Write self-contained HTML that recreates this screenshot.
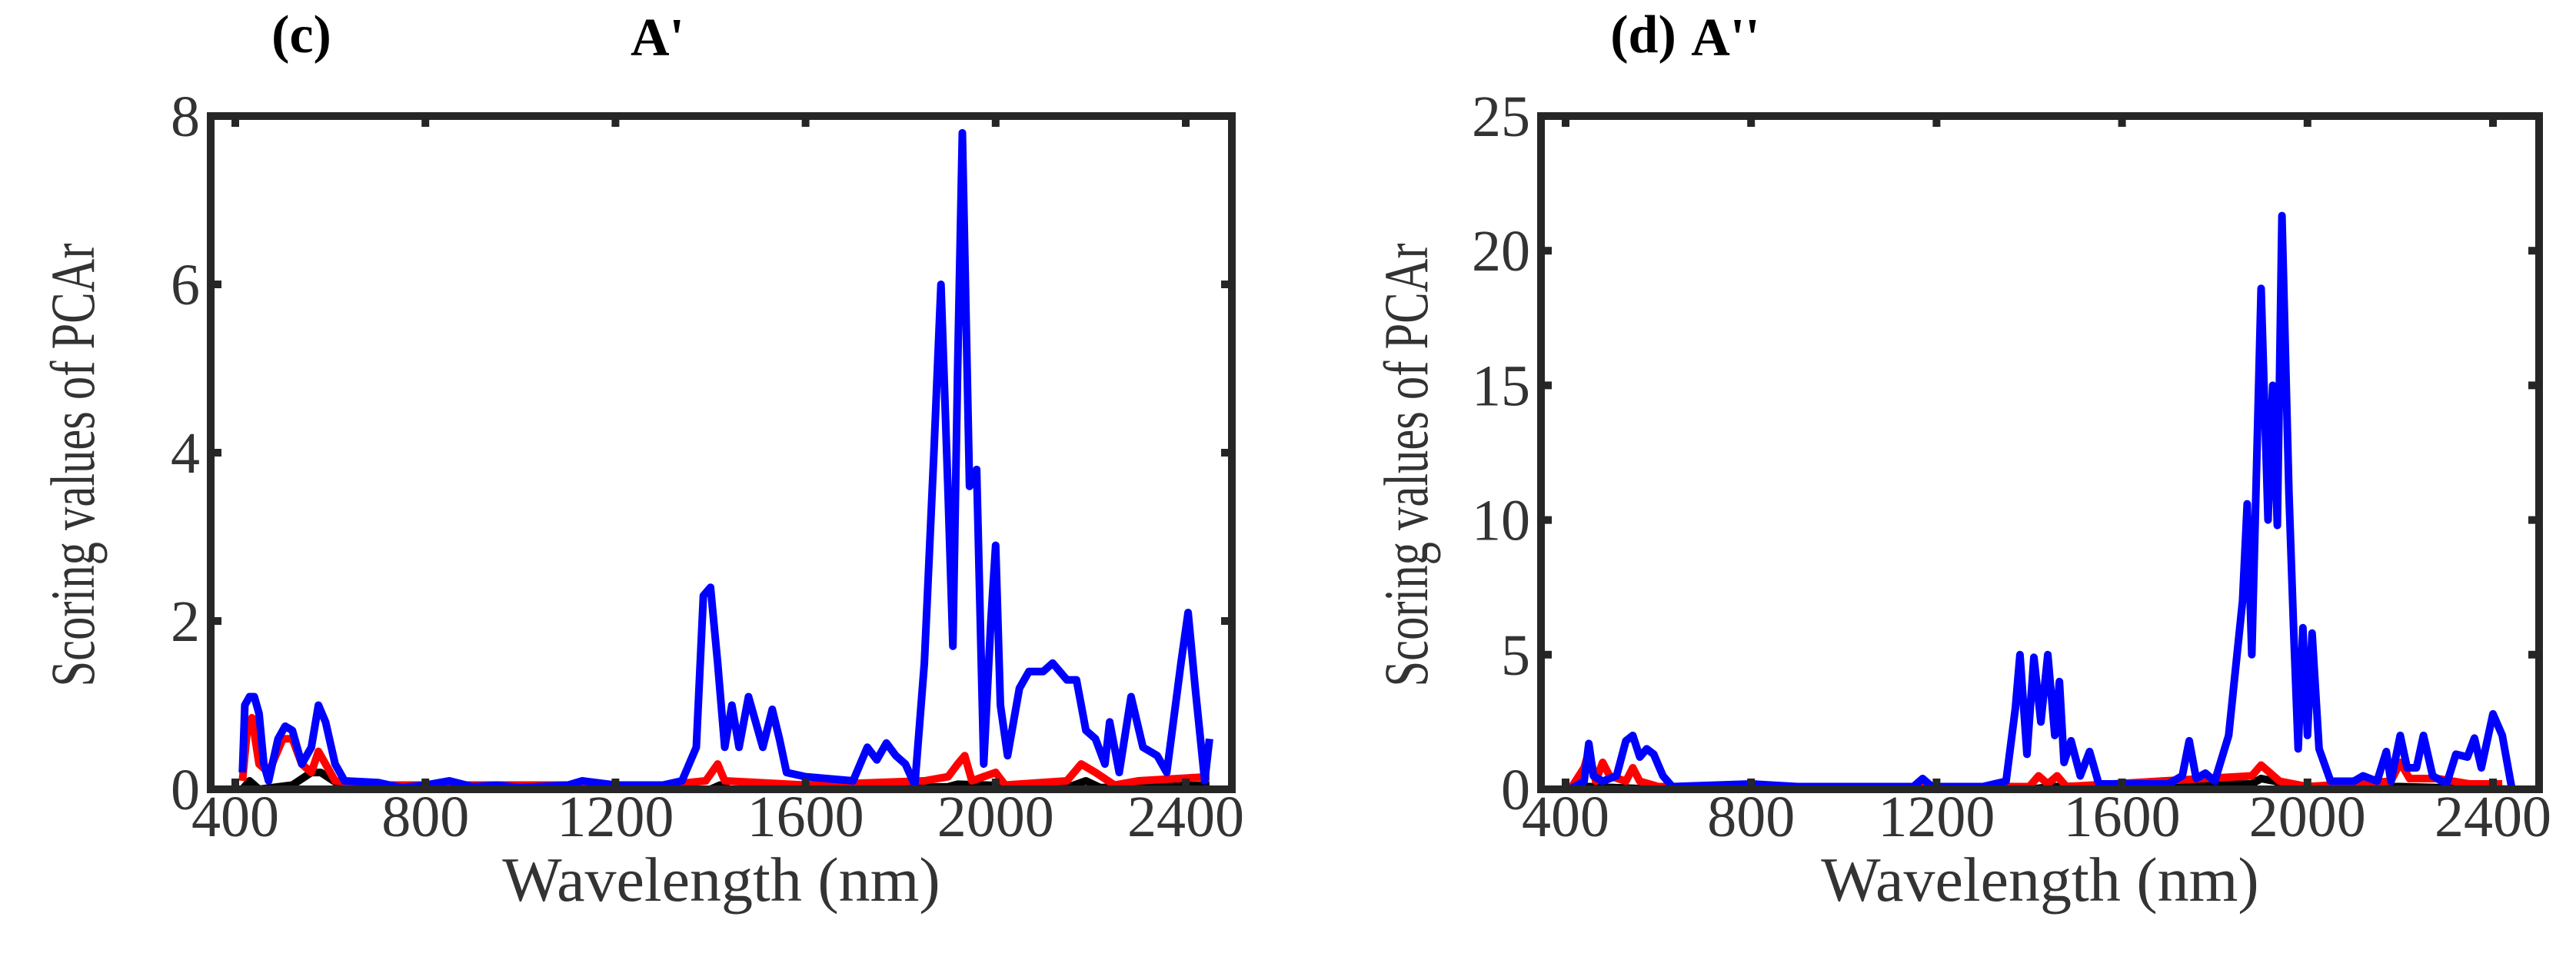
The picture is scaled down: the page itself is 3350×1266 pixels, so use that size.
<!DOCTYPE html>
<html><head><meta charset="utf-8"><style>
body{margin:0;background:#fff}
svg{display:block}
text{font-family:"Liberation Serif",serif}
</style></head><body>
<svg id="fig" width="3350" height="1266" viewBox="0 0 3350 1266" xmlns="http://www.w3.org/2000/svg"></svg>
<script>
const xTicks=[400,800,1200,1600,2000,2400];
const yTicksC=[0,2,4,6,8];
const yTicksD=[0,5,10,15,20,25];
const cBlueX=[415,420,430,440,450,460,470,490,505,520,540,560,575,590,610,630,700,750,800,850,900,950,1000,1100,1130,1200,1300,1340,1370,1385,1400,1415,1430,1445,1460,1480,1495,1510,1530,1545,1560,1600,1700,1730,1750,1770,1790,1810,1830,1850,1870,1885,1900,1910,1920,1930,1945,1960,1975,1990,2000,2010,2025,2050,2070,2100,2120,2150,2170,2190,2210,2230,2240,2260,2285,2310,2340,2360,2390,2405,2420,2440,2450];
const cBlueY=[0.2,1.0,1.1,1.1,0.9,0.3,0.1,0.6,0.75,0.7,0.3,0.5,1.0,0.8,0.3,0.1,0.08,0.02,0.05,0.1,0.03,0.05,0.02,0.05,0.1,0.05,0.05,0.1,0.5,2.3,2.4,1.5,0.5,1.0,0.5,1.1,0.8,0.5,0.95,0.6,0.2,0.15,0.1,0.5,0.35,0.55,0.4,0.3,0.05,1.5,4,6.0,3.5,1.7,5,7.8,3.6,3.8,0.3,2,2.9,1,0.4,1.2,1.4,1.4,1.5,1.3,1.3,0.7,0.6,0.3,0.8,0.2,1.1,0.5,0.4,0.2,1.5,2.1,1.2,0.1,0.6];
const cRedX=[415,425,435,450,470,500,520,540,560,575,590,610,700,1000,1300,1390,1415,1430,1600,1850,1900,1920,1935,1950,2000,2020,2150,2180,2210,2250,2300,2450];
const cRedY=[0.1,0.7,0.85,0.3,0.2,0.6,0.6,0.3,0.2,0.45,0.3,0.1,0.05,0.05,0.05,0.1,0.3,0.1,0.05,0.1,0.15,0.3,0.4,0.1,0.2,0.05,0.1,0.3,0.2,0.05,0.1,0.15];
const cBlackX=[415,430,450,520,560,580,620,700,1400,1420,1440,1900,1920,2150,2190,2220,2450];
const cBlackY=[0,0.1,0,0.05,0.2,0.2,0.05,0,0,0.05,0,0.03,0.06,0.02,0.1,0.02,0.05];
const dBlueX=[410,440,450,460,480,510,530,545,560,575,590,610,630,800,900,1000,1150,1170,1190,1300,1350,1370,1380,1395,1410,1425,1440,1455,1465,1475,1490,1510,1530,1550,1700,1730,1745,1760,1780,1800,1830,1860,1870,1880,1900,1915,1925,1935,1945,1960,1970,1980,1990,2000,2010,2025,2050,2100,2120,2150,2170,2180,2200,2215,2235,2250,2270,2300,2320,2345,2360,2375,2400,2420,2440];
const dBlueY=[0,0.3,1.7,0.5,0.3,0.5,1.8,2.0,1.2,1.5,1.3,0.5,0.1,0.2,0.1,0.1,0.1,0.4,0.1,0.1,0.3,3,5,1.3,4.9,2.5,5,2,4,1,1.8,0.5,1.4,0.2,0.2,0.5,1.8,0.4,0.6,0.3,2.0,7,10.6,5,18.6,10,15,9.8,21.3,11,6,1.5,6,2,5.8,1.5,0.3,0.3,0.5,0.3,1.4,0.3,2.0,0.8,0.8,2.0,0.5,0.2,1.3,1.2,1.9,0.8,2.8,2.0,0.1];
const dRedX=[410,440,450,465,480,495,530,545,560,600,1400,1420,1440,1460,1480,1880,1900,1920,1940,2000,2180,2200,2220,2280,2350,2420];
const dRedY=[0,0.8,1.4,0.3,1.0,0.5,0.3,0.8,0.3,0.1,0.1,0.5,0.2,0.5,0.1,0.5,0.9,0.6,0.3,0.1,0.3,1.0,0.4,0.4,0.2,0.2];
const dBlackX=[410,450,600,1400,1450,1880,1900,1930,1960,2200,2440];
const dBlackY=[0,0.1,0,0,0.1,0.2,0.4,0.3,0.1,0.1,0];

const NS="http://www.w3.org/2000/svg";
const svg=document.getElementById('fig');
function mk(tag,attrs,parent){const e=document.createElementNS(NS,tag);for(const k in attrs)e.setAttribute(k,attrs[k]);(parent||svg).appendChild(e);return e;}

function panel(p){
  const g=mk('g',{});
  
  
  const L=p.left,R=p.left+p.w,T=151,B=1027;
  const sx=v=>L+32+(v-400)*((p.w-92)/2000);
  const sy=v=>B-(v/p.ymax)*(B-T);
  function series(xs,ys,color,nm){
    const d=xs.map((x,i)=>(i?'L':'M')+sx(x).toFixed(1)+','+sy(ys[i]).toFixed(1)).join('');
    const path=mk('path',{d:d,fill:'none',stroke:color,'stroke-width':10,'stroke-linejoin':'round'},g);
    
    
  }
  series(p.bkX,p.bkY,'#000','series-black');
  series(p.rX,p.rY,'#ff0000','series-red');
  series(p.bX,p.bY,'#0000ff','series-blue');
  const fr=mk('rect',{x:L,y:T,width:R-L,height:B-T,fill:'none',stroke:'#262626','stroke-width':10},g);
  
  
  xTicks.forEach(t=>{
    const x=sx(t);
    mk('line',{x1:x,y1:B,x2:x,y2:B-14,stroke:'#262626','stroke-width':10},g);
    mk('line',{x1:x,y1:T,x2:x,y2:T+14,stroke:'#262626','stroke-width':10},g);
    const tx=mk('text',{x:x,y:1088,'font-size':76,fill:'#333','text-anchor':'middle'},g);
    tx.textContent=t;
    
    
  });
  p.yTicks.forEach(t=>{
    const y=sy(t);
    mk('line',{x1:L,y1:y,x2:L+14,y2:y,stroke:'#262626','stroke-width':10},g);
    mk('line',{x1:R,y1:y,x2:R-14,y2:y,stroke:'#262626','stroke-width':10},g);
    const ty=mk('text',{x:L-14,y:y+26,'font-size':76,fill:'#333','text-anchor':'end'},g);
    ty.textContent=t;
    
    
  });
  const xl=mk('text',{x:(L+R)/2,y:1172,'font-size':82,fill:'#333','text-anchor':'middle'},g);
  xl.textContent='Wavelength (nm)';
  
  
  const yl=mk('text',{x:0,y:0,'font-size':82,fill:'#333','text-anchor':'middle',textLength:577,lengthAdjust:'spacingAndGlyphs',transform:`translate(${p.ylx},605) rotate(-90)`},g);
  yl.textContent='Scoring values of PCAr';
  
  
  const lb=mk('text',{x:p.lbx,y:68,'font-size':70,'font-weight':'bold',fill:'#000','text-anchor':'middle'},g);
  lb.textContent=p.label;
  
  
  const tt=mk('text',{x:p.ttx,y:72,'font-size':70,'font-weight':'bold',fill:'#000','text-anchor':'middle'},g);
  tt.textContent=p.title;
  
  
}
panel({name:'panel-c',left:274,w:1328,ymax:8,yTicks:yTicksC,bX:cBlueX,bY:cBlueY,rX:cRedX,rY:cRedY,bkX:cBlackX,bkY:cBlackY,ylx:122,lbx:392,ttx:855,label:'(c)',title:"A'"});
panel({name:'panel-d',left:2004,w:1298,ymax:25,yTicks:yTicksD,bX:dBlueX,bY:dBlueY,rX:dRedX,rY:dRedY,bkX:dBlackX,bkY:dBlackY,ylx:1856,lbx:2137,ttx:2244,label:'(d)',title:"A''"});
</script>
</body></html>
